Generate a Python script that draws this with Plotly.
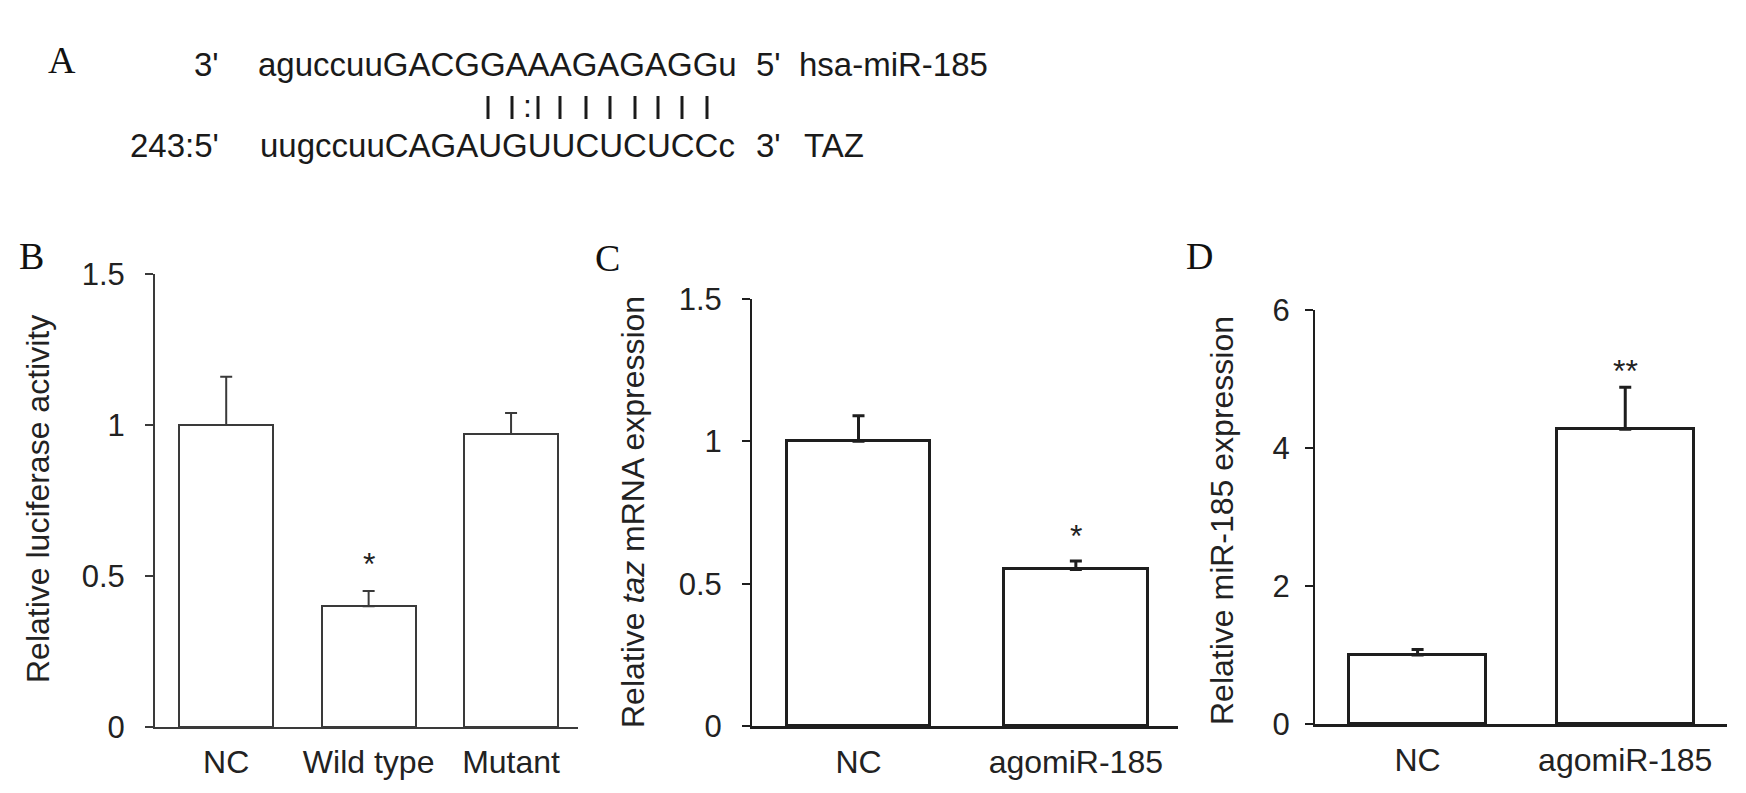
import plotly.graph_objects as go

# the page body keeps its default 8px margin, so the figure is drawn 8px in
# from the window corner; work in window pixels and convert below
OFF = 8
W, H = 1730, 777

# panel B - luciferase
b_categories = ["NC", "Wild type", "Mutant"]
b_values = [1.0, 0.40, 0.97]
b_errors = [0.16, 0.05, 0.07]
b_marks = ["", "*", ""]
b_mark_levels = [0, 0.568, 0]
b_ticks = [0, 0.5, 1, 1.5]
b_ticktext = ["0", "0.5", "1", "1.5"]

# panel C - taz mRNA
c_categories = ["NC", "agomiR-185"]
c_values = [1.0, 0.55]
c_errors = [0.09, 0.03]
c_marks = ["", "*"]
c_mark_levels = [0, 0.70]
c_ticks = [0, 0.5, 1, 1.5]
c_ticktext = ["0", "0.5", "1", "1.5"]

# panel D - miR-185
d_categories = ["NC", "agomiR-185"]
d_values = [1.0, 4.27]
d_errors = [0.08, 0.61]
d_marks = ["", "**"]
d_mark_levels = [0, 5.24]
d_ticks = [0, 2, 4, 6]
d_ticktext = ["0", "2", "4", "6"]

# panel A - sequences
mir_seq = "aguccuuGACGGAAAGAGAGGu"
taz_seq = "uugccuuCAGAUGUUCUCUCCc"


def fx(p):
    return (p - OFF) / W


def fy(p):
    return 1 - (p - OFF) / H


FONT = "Liberation Sans, Arial, sans-serif"
SERIF = "Liberation Serif, Times New Roman, serif"

fig = go.Figure()

panels = [
    ("x", "y", b_categories, b_values, b_errors, "#3a3a3a", 2),
    ("x2", "y2", c_categories, c_values, c_errors, "#1e1e1e", 3),
    ("x3", "y3", d_categories, d_values, d_errors, "#1e1e1e", 3),
]
for xa, ya, cats, vals, errs, col, lw in panels:
    fig.add_trace(go.Bar(
        x=cats, y=vals, xaxis=xa, yaxis=ya, width=0.66,
        marker=dict(color="white", line=dict(color=col, width=lw)),
        error_y=dict(type="data", array=errs, arrayminus=[0] * len(errs),
                     symmetric=False, color=col, thickness=lw, width=6),
        showlegend=False,
    ))


def xax(d0, d1, rng, col, lw, anchor):
    return dict(domain=[fx(d0), fx(d1)], range=rng, anchor=anchor, showline=True,
                linecolor=col, linewidth=lw, ticks="", showgrid=False, zeroline=False,
                tickfont=dict(family=FONT, size=32, color="#222"), ticklabelstandoff=6,
                fixedrange=True, automargin=False)


def yax(top, bottom, rng, tv, tt, col, lw, anchor, standoff):
    return dict(domain=[fy(bottom), fy(top)], range=rng, anchor=anchor, showline=True,
                linecolor=col, linewidth=lw, ticks="outside", ticklen=8, tickwidth=lw,
                tickcolor=col, tickvals=tv, ticktext=tt, showgrid=False, zeroline=False,
                tickfont=dict(family=FONT, size=31, color="#222"),
                ticklabelstandoff=standoff, fixedrange=True, automargin=False)


annotations = []


def note(text, x, y, size, family=FONT, xanchor="center", angle=0, color="#222"):
    annotations.append(dict(text=text, x=fx(x), y=fy(y), xref="paper", yref="paper",
                            xanchor=xanchor, yanchor="middle", textangle=angle,
                            showarrow=False, font=dict(family=family, size=size, color=color)))


# panel letters
for txt, x, y in [("A", 62, 60), ("B", 31, 256), ("C", 607, 258), ("D", 1199, 256)]:
    note(txt, x, y, 38, family=SERIF, color="#111")

# y axis titles
note("Relative luciferase activity", 38, 499, 32, angle=-90)
note("Relative <i>taz</i> mRNA expression", 633, 512, 32, angle=-90)
note("Relative miR-185 expression", 1222, 521, 32, angle=-90)

# significance marks
for xr, yr, cats, marks, levels in [("x", "y", b_categories, b_marks, b_mark_levels),
                                    ("x2", "y2", c_categories, c_marks, c_mark_levels),
                                    ("x3", "y3", d_categories, d_marks, d_mark_levels)]:
    for cat, m, lv in zip(cats, marks, levels):
        if m:
            annotations.append(dict(text=m, x=cat, y=lv, xref=xr, yref=yr, showarrow=False,
                                    xanchor="center", yanchor="middle", yshift=-9,
                                    font=dict(family=FONT, size=32, color="#222")))

# panel A text
for txt, x, y, anc in [("3'", 221, 64, "right"), (mir_seq, 256, 64, "left"),
                       ("5'", 754, 64, "left"), ("hsa-miR-185", 797, 64, "left"),
                       ("243:5'", 221, 146, "right"), (taz_seq, 258, 146, "left"),
                       ("3'", 754, 146, "left"), ("TAZ", 802, 146, "left")]:
    note(txt, x, y, 33, xanchor=anc, color="#1a1a1a")
note(":", 527, 106, 32, color="#1a1a1a")

pair_x = [488, 512, 538, 560, 586, 610, 635, 658, 682, 707]
shapes = []
for px in pair_x:
    shapes.append(dict(type="line", xref="paper", yref="paper", x0=fx(px), x1=fx(px),
                       y0=fy(96), y1=fy(119), line=dict(color="#1a1a1a", width=3)))

fig.update_layout(
    width=W, height=H,
    margin=dict(l=0, r=0, t=0, b=0),
    paper_bgcolor="white", plot_bgcolor="white",
    xaxis=xax(155, 578, [-0.5, 2.47], "#3a3a3a", 2, "y"),
    yaxis=yax(274, 727, [0, 1.5], b_ticks, b_ticktext, "#3a3a3a", 2, "x", 14),
    xaxis2=xax(752, 1178, [-0.49, 1.47], "#1e1e1e", 3, "y2"),
    yaxis2=yax(299, 726, [0, 1.5], c_ticks, c_ticktext, "#1e1e1e", 2, "x2", 14),
    xaxis3=xax(1315, 1727, [-0.494, 1.49], "#1e1e1e", 3, "y3"),
    yaxis3=yax(310, 724, [0, 6], d_ticks, d_ticktext, "#1e1e1e", 2, "x3", 9),
    annotations=annotations,
    shapes=shapes,
    bargap=0,
)

fig.write_html("out.html")
